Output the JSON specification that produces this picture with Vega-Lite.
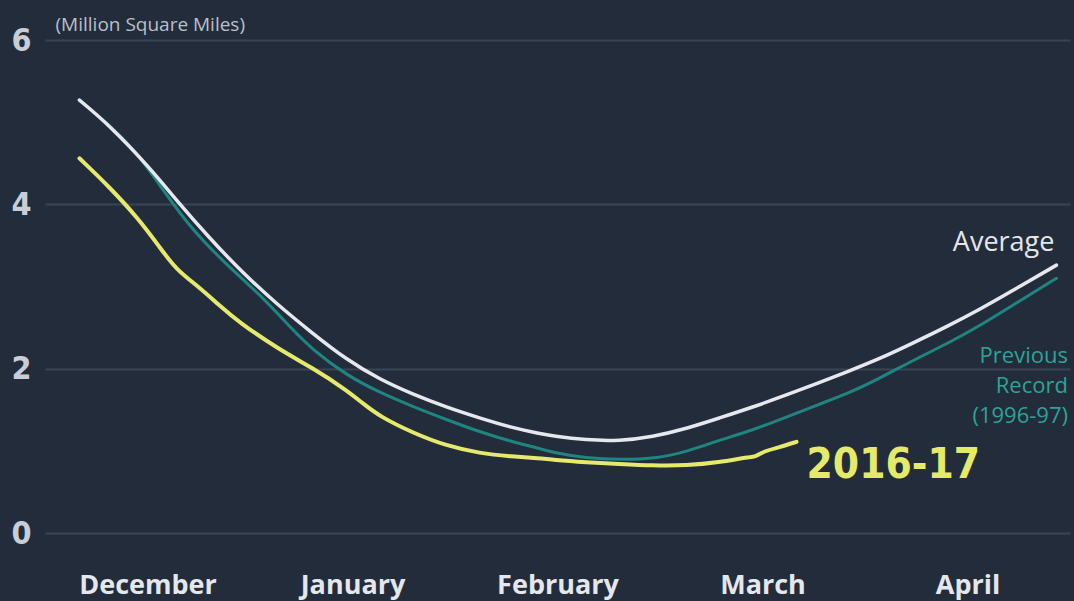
{
  "$schema": "https://vega.github.io/schema/vega-lite/v6.json",
  "autosize": {"type": "none"},
  "width": 1025,
  "height": 493,
  "padding": {"left": 45, "top": 40, "right": 4, "bottom": 68},
  "background": "#222c3b",
  "config": {"view": {"stroke": null}},
  "datasets": {
    "series": [
      {"series": "Previous Record", "t": 0.168, "v": 5.26},
      {"series": "Previous Record", "t": 0.32, "v": 4.96},
      {"series": "Previous Record", "t": 0.45, "v": 4.62},
      {"series": "Previous Record", "t": 0.55, "v": 4.27},
      {"series": "Previous Record", "t": 0.70, "v": 3.74},
      {"series": "Previous Record", "t": 0.87, "v": 3.30},
      {"series": "Previous Record", "t": 1.05, "v": 2.90},
      {"series": "Previous Record", "t": 1.19, "v": 2.52},
      {"series": "Previous Record", "t": 1.305, "v": 2.23},
      {"series": "Previous Record", "t": 1.471, "v": 1.92},
      {"series": "Previous Record", "t": 1.632, "v": 1.71},
      {"series": "Previous Record", "t": 1.793, "v": 1.54},
      {"series": "Previous Record", "t": 1.959, "v": 1.38},
      {"series": "Previous Record", "t": 2.12, "v": 1.23},
      {"series": "Previous Record", "t": 2.28, "v": 1.11},
      {"series": "Previous Record", "t": 2.412, "v": 1.03},
      {"series": "Previous Record", "t": 2.476, "v": 0.98},
      {"series": "Previous Record", "t": 2.641, "v": 0.91},
      {"series": "Previous Record", "t": 2.802, "v": 0.89},
      {"series": "Previous Record", "t": 2.993, "v": 0.91},
      {"series": "Previous Record", "t": 3.129, "v": 0.99},
      {"series": "Previous Record", "t": 3.29, "v": 1.13},
      {"series": "Previous Record", "t": 3.451, "v": 1.25},
      {"series": "Previous Record", "t": 3.617, "v": 1.41},
      {"series": "Previous Record", "t": 3.778, "v": 1.57},
      {"series": "Previous Record", "t": 3.91, "v": 1.69},
      {"series": "Previous Record", "t": 4.071, "v": 1.88},
      {"series": "Previous Record", "t": 4.232, "v": 2.10},
      {"series": "Previous Record", "t": 4.398, "v": 2.30},
      {"series": "Previous Record", "t": 4.559, "v": 2.52},
      {"series": "Previous Record", "t": 4.72, "v": 2.77},
      {"series": "Previous Record", "t": 4.934, "v": 3.10},
      {"series": "Average", "t": 0.168, "v": 5.27},
      {"series": "Average", "t": 0.315, "v": 4.96},
      {"series": "Average", "t": 0.51, "v": 4.45},
      {"series": "Average", "t": 0.641, "v": 4.05},
      {"series": "Average", "t": 0.802, "v": 3.59},
      {"series": "Average", "t": 0.963, "v": 3.17},
      {"series": "Average", "t": 1.129, "v": 2.79},
      {"series": "Average", "t": 1.305, "v": 2.43},
      {"series": "Average", "t": 1.471, "v": 2.11},
      {"series": "Average", "t": 1.632, "v": 1.87},
      {"series": "Average", "t": 1.793, "v": 1.69},
      {"series": "Average", "t": 1.959, "v": 1.53},
      {"series": "Average", "t": 2.12, "v": 1.40},
      {"series": "Average", "t": 2.28, "v": 1.28},
      {"series": "Average", "t": 2.412, "v": 1.21},
      {"series": "Average", "t": 2.476, "v": 1.18},
      {"series": "Average", "t": 2.641, "v": 1.13},
      {"series": "Average", "t": 2.802, "v": 1.12},
      {"series": "Average", "t": 2.963, "v": 1.17},
      {"series": "Average", "t": 3.129, "v": 1.27},
      {"series": "Average", "t": 3.29, "v": 1.40},
      {"series": "Average", "t": 3.451, "v": 1.53},
      {"series": "Average", "t": 3.617, "v": 1.68},
      {"series": "Average", "t": 3.778, "v": 1.83},
      {"series": "Average", "t": 3.91, "v": 1.96},
      {"series": "Average", "t": 4.071, "v": 2.12},
      {"series": "Average", "t": 4.232, "v": 2.31},
      {"series": "Average", "t": 4.398, "v": 2.51},
      {"series": "Average", "t": 4.559, "v": 2.72},
      {"series": "Average", "t": 4.72, "v": 2.95},
      {"series": "Average", "t": 4.934, "v": 3.26},
      {"series": "2016-17", "t": 0.168, "v": 4.56},
      {"series": "2016-17", "t": 0.315, "v": 4.21},
      {"series": "2016-17", "t": 0.461, "v": 3.81},
      {"series": "2016-17", "t": 0.559, "v": 3.48},
      {"series": "2016-17", "t": 0.641, "v": 3.20},
      {"series": "2016-17", "t": 0.754, "v": 2.99},
      {"series": "2016-17", "t": 0.85, "v": 2.77},
      {"series": "2016-17", "t": 0.949, "v": 2.56},
      {"series": "2016-17", "t": 1.144, "v": 2.23},
      {"series": "2016-17", "t": 1.305, "v": 2.01},
      {"series": "2016-17", "t": 1.471, "v": 1.74},
      {"series": "2016-17", "t": 1.549, "v": 1.58},
      {"series": "2016-17", "t": 1.632, "v": 1.42},
      {"series": "2016-17", "t": 1.793, "v": 1.22},
      {"series": "2016-17", "t": 1.959, "v": 1.06},
      {"series": "2016-17", "t": 2.12, "v": 0.97},
      {"series": "2016-17", "t": 2.28, "v": 0.93},
      {"series": "2016-17", "t": 2.412, "v": 0.91},
      {"series": "2016-17", "t": 2.476, "v": 0.89},
      {"series": "2016-17", "t": 2.641, "v": 0.86},
      {"series": "2016-17", "t": 2.802, "v": 0.84},
      {"series": "2016-17", "t": 2.963, "v": 0.82},
      {"series": "2016-17", "t": 3.129, "v": 0.82},
      {"series": "2016-17", "t": 3.29, "v": 0.86},
      {"series": "2016-17", "t": 3.42, "v": 0.92},
      {"series": "2016-17", "t": 3.47, "v": 0.93},
      {"series": "2016-17", "t": 3.51, "v": 1.0},
      {"series": "2016-17", "t": 3.58, "v": 1.04},
      {"series": "2016-17", "t": 3.666, "v": 1.11}
    ],
    "labels": [
      {"kind": "avg", "text": "Average", "t": 4.924, "v": 3.53},
      {"kind": "prev", "text": "Previous", "t": 4.99, "v": 2.15},
      {"kind": "prev", "text": "Record", "t": 4.99, "v": 1.79},
      {"kind": "prev", "text": "(1996-97)", "t": 4.99, "v": 1.43},
      {"kind": "cur", "text": "2016-17", "t": 3.715, "v": 0.83}
    ]
  },
  "encoding": {
    "x": {
      "field": "t", "type": "quantitative",
      "scale": {"domain": [0, 5], "nice": false, "zero": false},
      "axis": {
        "values": [0.5, 1.5, 2.5, 3.5, 4.5],
        "labelExpr": "['December','January','February','March','April'][floor(datum.value)]",
        "title": null, "grid": false, "domain": false, "ticks": false,
        "labelFont": "Open Sans", "labelFontSize": 27, "labelFontWeight": "bold",
        "labelColor": "#e4e7ec", "labelBaseline": "alphabetic", "labelPadding": 60,
        "labelAlign": "center", "labelFlush": false, "labelOverlap": false
      }
    },
    "y": {
      "field": "v", "type": "quantitative",
      "scale": {"domain": [0, 6], "nice": false},
      "axis": {
        "values": [0, 2, 4, 6],
        "title": "(Million Square Miles)",
        "titleAngle": 0, "titleAlign": "left", "titleBaseline": "middle",
        "titleX": 10, "titleY": -16,
        "titleFont": "Open Sans", "titleFontSize": 19, "titleFontWeight": "normal",
        "titleColor": "#b9c0c9",
        "grid": true, "gridColor": "#3a4554", "gridWidth": 2,
        "domain": false, "ticks": false,
        "labelFont": "DejaVu Sans Condensed, Roboto, sans-serif", "labelFontSize": 32, "labelFontWeight": "bold",
        "labelColor": "#c9ced6", "labelPadding": 14
      }
    }
  },
  "layer": [
    {
      "data": {"name": "series"},
      "transform": [{"filter": "datum.series === 'Previous Record'"}],
      "mark": {"type": "line", "color": "#1f8580", "strokeWidth": 3, "interpolate": "basis", "strokeCap": "round"}
    },
    {
      "data": {"name": "series"},
      "transform": [{"filter": "datum.series === 'Average'"}],
      "mark": {"type": "line", "color": "#e6e8ee", "strokeWidth": 3.5, "interpolate": "basis", "strokeCap": "round"}
    },
    {
      "data": {"name": "series"},
      "transform": [{"filter": "datum.series === '2016-17'"}],
      "mark": {"type": "line", "color": "#e6ea6c", "strokeWidth": 4, "interpolate": "basis", "strokeCap": "round"}
    },
    {
      "data": {"name": "labels"},
      "transform": [{"filter": "datum.kind === 'avg'"}],
      "mark": {"type": "text", "align": "right", "baseline": "middle", "font": "Open Sans", "fontSize": 27, "color": "#e4e6ea"},
      "encoding": {"text": {"field": "text"}}
    },
    {
      "data": {"name": "labels"},
      "transform": [{"filter": "datum.kind === 'prev'"}],
      "mark": {"type": "text", "align": "right", "baseline": "middle", "font": "Open Sans", "fontSize": 22, "color": "#2ea397"},
      "encoding": {"text": {"field": "text"}}
    },
    {
      "data": {"name": "labels"},
      "transform": [{"filter": "datum.kind === 'cur'"}],
      "mark": {"type": "text", "align": "left", "baseline": "middle", "font": "DejaVu Sans Condensed, Roboto, sans-serif", "fontWeight": "bold", "fontSize": 42, "color": "#e6ea6a"},
      "encoding": {"text": {"field": "text"}}
    }
  ]
}
